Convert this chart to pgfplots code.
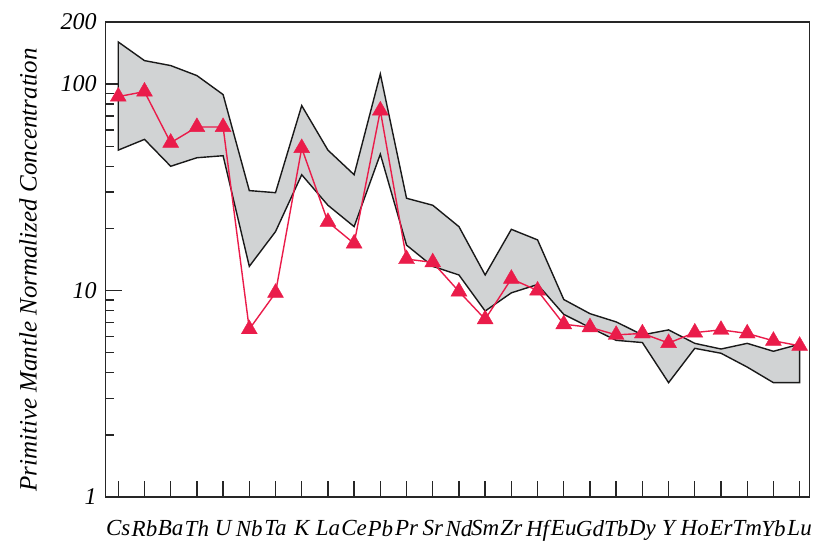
\documentclass[border=0pt]{standalone}
\usepackage{fontspec}
\setmainfont{Liberation Serif}
\usepackage{pgfplots}
\pgfplotsset{compat=1.18}
\definecolor{bandgray}{RGB}{209,211,212}
\definecolor{redline}{RGB}{234,28,74}
\begin{document}
\begin{tikzpicture}
\begin{axis}[
  scale only axis, width=351.8pt, height=237.5pt,
  at={(0,0)}, anchor=south west,
  ymode=log, ymin=1, ymax=200, xmin=-0.48, xmax=26.37,
  axis line style={line width=0.7pt, black!85},
  ytick={1,10,100}, yticklabels={1,10,100},
  extra y ticks={200}, extra y tick labels={200},
  extra y tick style={major tick length=0pt},
  minor ytick={2,3,4,5,6,7,8,9,20,30,40,50,60,70,80,90},
  xtick={0,...,26},
  xticklabels={Cs,Rb,Ba,Th,U,Nb,Ta,K,La,Ce,Pb,Pr,Sr,Nd,Sm,Zr,Hf,Eu,Gd,Tb,Dy,Y,Ho,Er,Tm,Yb,Lu},
  tick align=inside, xtick pos=bottom, ytick pos=left,
  major tick length=8pt, minor tick length=4pt,
  tick style={black!85, line width=0.7pt},
  xticklabel style={font=\fontsize{11.5}{13}\selectfont\itshape, yshift=-8pt},
  yticklabel style={font=\fontsize{12}{14}\selectfont\itshape, xshift=-1pt},
  ylabel={Primitive Mantle Normalized Concentration},
  ylabel style={font=\fontsize{12.5}{15}\selectfont\itshape, at={(axis description cs:-0.1104,0.478)}, anchor=center},
  clip=false,
]
% grey envelope: upper from Cs to Lu, then lower back from Lu to Cs
\addplot[fill=bandgray, draw=black!90, line width=0.7pt] coordinates {
  (0,160) (1,130) (2,123) (3,110) (4,89) (5,30.5) (6,29.8) (7,78.7) (8,47.9) (9,36.4)
  (10,112) (11,28) (12,25.9) (13,20.4) (14,11.9) (15,19.8) (16,17.6) (17,9.05) (18,7.73)
  (19,7.05) (20,6.1) (21,6.45) (22,5.55) (23,5.21) (24,5.55) (25,5.08) (26,5.5)
  (26,3.58) (25,3.58) (24,4.26) (23,4.97) (22,5.25) (21,3.58) (20,5.6) (19,5.74) (18,6.62)
  (17,7.67) (16,10.7) (15,9.75) (14,7.96) (13,11.9) (12,13.1) (11,16.6) (10,45.8) (9,20.4)
  (8,25.9) (7,36.4) (6,19.3) (5,13.1) (4,45) (3,44) (2,40) (1,54) (0,47.9)
} -- cycle;
% sample
\addplot[color=redline, line width=0.7pt, mark=triangle*, mark size=4.6pt, mark options={fill=redline, draw=redline, line width=0.2pt}] coordinates {
  (0,87) (1,92) (2,52) (3,62) (4,62) (5,6.5) (6,9.75) (7,49) (8,21.5) (9,16.9)
  (10,74.5) (11,14.2) (12,13.7) (13,9.9) (14,7.26) (15,11.4) (16,10.0) (17,6.87) (18,6.64)
  (19,6.1) (20,6.2) (21,5.57) (22,6.26) (23,6.45) (24,6.2) (25,5.71) (26,5.4)
};
\end{axis}
\pgfresetboundingbox
\path ([shift={(-52.85pt,-23.5pt)}]current axis.south west) rectangle ([shift={(6.35pt,11pt)}]current axis.north east);
\end{tikzpicture}
\end{document}
